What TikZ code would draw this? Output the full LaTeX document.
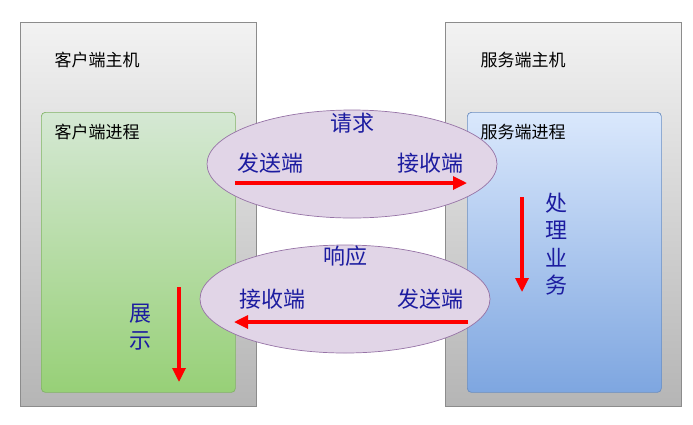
\documentclass[tikz,border=0pt]{standalone}
\usepackage{fontspec}
\newfontfamily\cjk{Noto Sans CJK SC}
\usetikzlibrary{arrows.meta,shapes.geometric}
\definecolor{navy}{HTML}{1C1CA0}
\definecolor{hostdraw}{HTML}{8C8C8C}
\definecolor{greendraw}{HTML}{82B366}
\definecolor{bluedraw}{HTML}{6C8EBF}
\definecolor{ellfill}{HTML}{E1D5E7}
\definecolor{elldraw}{HTML}{9673A6}
\definecolor{gtopc}{HTML}{D5E8D4}\definecolor{gbotc}{HTML}{97D077}
\definecolor{btopc}{HTML}{DAE8FC}\definecolor{bbotc}{HTML}{7EA6E0}
\tikzset{
  host/.style={draw=hostdraw, line width=0.9pt, top color=black!5, bottom color=black!29, minimum width=236pt, minimum height=384pt, anchor=north west, inner sep=0pt},
  proc/.style={line width=0.7pt, rounded corners=4pt, minimum width=194pt, minimum height=280pt, anchor=north west, inner sep=0pt},
  lbl/.style={font=\cjk\fontsize{17}{20}\selectfont, text=black, inner sep=0pt},
  big/.style={font=\cjk\fontsize{22}{27.5}\selectfont, text=navy, inner sep=0pt, align=center},
  msg/.style={ellipse, draw=elldraw, line width=0.7pt, fill=ellfill, minimum width=290pt, minimum height=108pt, inner sep=0pt},
  redarrow/.style={draw=red, line width=3.2pt, -{Triangle[width=13pt,length=14pt]}}
}
\begin{document}
\begin{tikzpicture}[x=1pt,y=-1pt]
\useasboundingbox (0,0) rectangle (693,424);
% hosts
\node[host] (chost) at (20,22) {};
\node[host] (shost) at (445,22) {};
% processes
\node[proc, draw=greendraw, top color=gtopc, bottom color=gbotc] (cproc) at (41,112) {};
\node[proc, draw=bluedraw, top color=btopc, bottom color=bbotc] (sproc) at (467,112) {};
% labels
\node[lbl] (chostl) at (97,60) {客户端主机};
\node[lbl] (cprocl) at (97,132) {客户端进程};
\node[lbl] (shostl) at (523,60) {服务端主机};
\node[lbl] (sprocl) at (523,132) {服务端进程};
% ellipses
\node[msg] (req) at (352,164) {};
\node[msg] (resp) at (345,299) {};
\node[big] (reqt) at (352,123) {请求};
\node[big] (reqs) at (270,163) {发送端};
\node[big] (reqr) at (430,163) {接收端};
\node[big] (respt) at (345,256) {响应};
\node[big] (respr) at (272,299) {接收端};
\node[big] (resps) at (430,299) {发送端};
\coordinate (a1) at (235,183); \coordinate (a2) at (467,183);
\coordinate (b1) at (468,322); \coordinate (b2) at (234,322);
\draw[redarrow] (a1) -- (a2);
\draw[redarrow] (b1) -- (b2);
% vertical texts
\node[big] (show) at (140,327) {展\\示};
\node[big] (proc) at (556,244) {处\\理\\业\\务};
\coordinate (c1) at (179,287); \coordinate (c2) at (179,382);
\coordinate (d1) at (522,197); \coordinate (d2) at (522,292);
\draw[redarrow] (c1) -- (c2);
\draw[redarrow] (d1) -- (d2);
\end{tikzpicture}
\end{document}
